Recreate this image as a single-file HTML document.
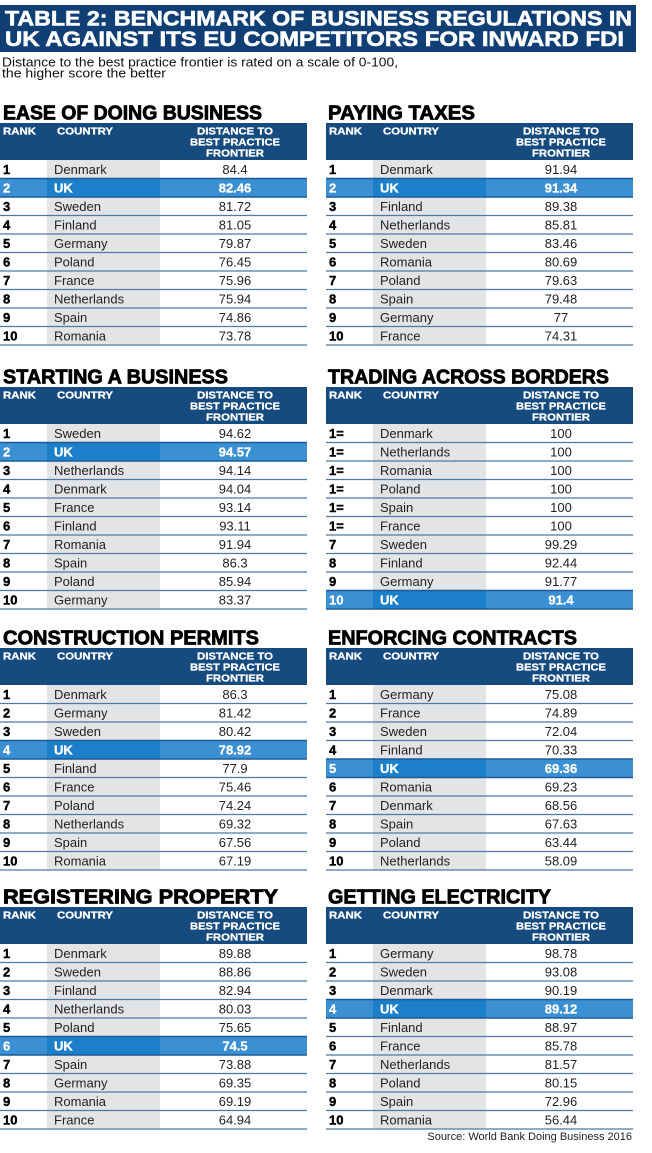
<!DOCTYPE html>
<html>
<head>
<meta charset="utf-8">
<style>
html,body{margin:0;padding:0;background:#fff;}
svg{display:block;}
text{font-family:"Liberation Sans",Arial,sans-serif;}
.tt{font-size:21px;font-weight:bold;fill:#fff;stroke:#fff;stroke-width:0.6;}
.sub{font-size:12.5px;fill:#111;}
.st{font-size:20px;font-weight:bold;fill:#000;stroke:#000;stroke-width:0.8;}
.hd{font-size:10.5px;font-weight:bold;fill:#fff;stroke:#fff;stroke-width:0.3;}
.hc{font-size:10.5px;font-weight:bold;fill:#fff;text-anchor:middle;stroke:#fff;stroke-width:0.3;}
.r{font-size:13px;font-weight:bold;fill:#000;stroke:#000;stroke-width:0.4;}
.c{font-size:13px;fill:#222;}
.v{font-size:13px;fill:#222;text-anchor:middle;}
.rh{font-size:13px;font-weight:bold;fill:#fff;stroke:#fff;stroke-width:0.3;}
.vh{font-size:13px;font-weight:bold;fill:#fff;text-anchor:middle;stroke:#fff;stroke-width:0.3;}
.src{font-size:11px;fill:#222;text-anchor:end;}
.ln{stroke:#4f78a6;stroke-width:1.2;fill:none;}
.lh{stroke:#1d5b96;stroke-width:1.4;fill:none;}
</style>
</head>
<body>
<svg width="652" height="1153" viewBox="0 0 652 1153" xmlns="http://www.w3.org/2000/svg">
<rect width="652" height="1153" fill="#fff"/>
<!-- Title -->
<rect x="0" y="5" width="636" height="47" fill="#0f3f75"/>
<text class="tt" x="5" y="25.5" textLength="627" lengthAdjust="spacingAndGlyphs">TABLE 2: BENCHMARK OF BUSINESS REGULATIONS IN</text>
<text class="tt" x="5" y="46" textLength="619" lengthAdjust="spacingAndGlyphs">UK AGAINST ITS EU COMPETITORS FOR INWARD FDI</text>
<text class="sub" x="2" y="66.5" textLength="396" lengthAdjust="spacingAndGlyphs">Distance to the best practice frontier is rated on a scale of 0-100,</text>
<text class="sub" x="2" y="77.5" textLength="164" lengthAdjust="spacingAndGlyphs">the higher score the better</text>

<!-- ===== Section 1 Left ===== -->
<g transform="translate(0,123)">
<text class="st" x="3" y="-3.5" textLength="259" lengthAdjust="spacingAndGlyphs">EASE OF DOING BUSINESS</text>
<rect width="307" height="37" fill="#164b80"/>
<text class="hd" x="3" y="11.5" textLength="33" lengthAdjust="spacingAndGlyphs">RANK</text>
<text class="hd" x="57" y="11.5" textLength="56" lengthAdjust="spacingAndGlyphs">COUNTRY</text>
<text class="hc" x="235" y="11.5" textLength="76" lengthAdjust="spacingAndGlyphs">DISTANCE TO</text>
<text class="hc" x="235" y="22.5" textLength="90" lengthAdjust="spacingAndGlyphs">BEST PRACTICE</text>
<text class="hc" x="235" y="33.5" textLength="58" lengthAdjust="spacingAndGlyphs">FRONTIER</text>
<rect x="47" y="37" width="113" height="185" fill="#e3e4e6"/>
<rect x="0" y="55.5" width="307" height="18.5" fill="#3a90d2"/><rect x="47" y="55.5" width="113" height="18.5" fill="#1b7fc9"/>
<path class="ln" d="M0 92.5H307M0 111H307M0 129.5H307M0 148H307M0 166.5H307M0 185H307M0 203.5H307M0 222H307"/>
<path class="lh" d="M0 55.5H307M0 74H307"/>
<text class="r" x="3" y="51.2">1</text><text class="c" x="54" y="51.2">Denmark</text><text class="v" x="235" y="51.2">84.4</text>
<text class="rh" x="3" y="69.7">2</text><text class="rh" x="54" y="69.7">UK</text><text class="vh" x="235" y="69.7">82.46</text>
<text class="r" x="3" y="88.2">3</text><text class="c" x="54" y="88.2">Sweden</text><text class="v" x="235" y="88.2">81.72</text>
<text class="r" x="3" y="106.7">4</text><text class="c" x="54" y="106.7">Finland</text><text class="v" x="235" y="106.7">81.05</text>
<text class="r" x="3" y="125.2">5</text><text class="c" x="54" y="125.2">Germany</text><text class="v" x="235" y="125.2">79.87</text>
<text class="r" x="3" y="143.7">6</text><text class="c" x="54" y="143.7">Poland</text><text class="v" x="235" y="143.7">76.45</text>
<text class="r" x="3" y="162.2">7</text><text class="c" x="54" y="162.2">France</text><text class="v" x="235" y="162.2">75.96</text>
<text class="r" x="3" y="180.7">8</text><text class="c" x="54" y="180.7">Netherlands</text><text class="v" x="235" y="180.7">75.94</text>
<text class="r" x="3" y="199.2">9</text><text class="c" x="54" y="199.2">Spain</text><text class="v" x="235" y="199.2">74.86</text>
<text class="r" x="3" y="217.7">10</text><text class="c" x="54" y="217.7">Romania</text><text class="v" x="235" y="217.7">73.78</text>
</g>

<!-- ===== Section 1 Right ===== -->
<g transform="translate(326,123)">
<text class="st" x="2" y="-3.5" textLength="147" lengthAdjust="spacingAndGlyphs">PAYING TAXES</text>
<rect width="307" height="37" fill="#164b80"/>
<text class="hd" x="3" y="11.5" textLength="33" lengthAdjust="spacingAndGlyphs">RANK</text>
<text class="hd" x="57" y="11.5" textLength="56" lengthAdjust="spacingAndGlyphs">COUNTRY</text>
<text class="hc" x="235" y="11.5" textLength="76" lengthAdjust="spacingAndGlyphs">DISTANCE TO</text>
<text class="hc" x="235" y="22.5" textLength="90" lengthAdjust="spacingAndGlyphs">BEST PRACTICE</text>
<text class="hc" x="235" y="33.5" textLength="58" lengthAdjust="spacingAndGlyphs">FRONTIER</text>
<rect x="47" y="37" width="113" height="185" fill="#e3e4e6"/>
<rect x="0" y="55.5" width="307" height="18.5" fill="#3a90d2"/><rect x="47" y="55.5" width="113" height="18.5" fill="#1b7fc9"/>
<path class="ln" d="M0 92.5H307M0 111H307M0 129.5H307M0 148H307M0 166.5H307M0 185H307M0 203.5H307M0 222H307"/>
<path class="lh" d="M0 55.5H307M0 74H307"/>
<text class="r" x="3" y="51.2">1</text><text class="c" x="54" y="51.2">Denmark</text><text class="v" x="235" y="51.2">91.94</text>
<text class="rh" x="3" y="69.7">2</text><text class="rh" x="54" y="69.7">UK</text><text class="vh" x="235" y="69.7">91.34</text>
<text class="r" x="3" y="88.2">3</text><text class="c" x="54" y="88.2">Finland</text><text class="v" x="235" y="88.2">89.38</text>
<text class="r" x="3" y="106.7">4</text><text class="c" x="54" y="106.7">Netherlands</text><text class="v" x="235" y="106.7">85.81</text>
<text class="r" x="3" y="125.2">5</text><text class="c" x="54" y="125.2">Sweden</text><text class="v" x="235" y="125.2">83.46</text>
<text class="r" x="3" y="143.7">6</text><text class="c" x="54" y="143.7">Romania</text><text class="v" x="235" y="143.7">80.69</text>
<text class="r" x="3" y="162.2">7</text><text class="c" x="54" y="162.2">Poland</text><text class="v" x="235" y="162.2">79.63</text>
<text class="r" x="3" y="180.7">8</text><text class="c" x="54" y="180.7">Spain</text><text class="v" x="235" y="180.7">79.48</text>
<text class="r" x="3" y="199.2">9</text><text class="c" x="54" y="199.2">Germany</text><text class="v" x="235" y="199.2">77</text>
<text class="r" x="3" y="217.7">10</text><text class="c" x="54" y="217.7">France</text><text class="v" x="235" y="217.7">74.31</text>
</g>

<!-- ===== Section 2 Left ===== -->
<g transform="translate(0,387)">
<text class="st" x="3" y="-3.5" textLength="225" lengthAdjust="spacingAndGlyphs">STARTING A BUSINESS</text>
<rect width="307" height="37" fill="#164b80"/>
<text class="hd" x="3" y="11.5" textLength="33" lengthAdjust="spacingAndGlyphs">RANK</text>
<text class="hd" x="57" y="11.5" textLength="56" lengthAdjust="spacingAndGlyphs">COUNTRY</text>
<text class="hc" x="235" y="11.5" textLength="76" lengthAdjust="spacingAndGlyphs">DISTANCE TO</text>
<text class="hc" x="235" y="22.5" textLength="90" lengthAdjust="spacingAndGlyphs">BEST PRACTICE</text>
<text class="hc" x="235" y="33.5" textLength="58" lengthAdjust="spacingAndGlyphs">FRONTIER</text>
<rect x="47" y="37" width="113" height="185" fill="#e3e4e6"/>
<rect x="0" y="55.5" width="307" height="18.5" fill="#3a90d2"/><rect x="47" y="55.5" width="113" height="18.5" fill="#1b7fc9"/>
<path class="ln" d="M0 92.5H307M0 111H307M0 129.5H307M0 148H307M0 166.5H307M0 185H307M0 203.5H307M0 222H307"/>
<path class="lh" d="M0 55.5H307M0 74H307"/>
<text class="r" x="3" y="51.2">1</text><text class="c" x="54" y="51.2">Sweden</text><text class="v" x="235" y="51.2">94.62</text>
<text class="rh" x="3" y="69.7">2</text><text class="rh" x="54" y="69.7">UK</text><text class="vh" x="235" y="69.7">94.57</text>
<text class="r" x="3" y="88.2">3</text><text class="c" x="54" y="88.2">Netherlands</text><text class="v" x="235" y="88.2">94.14</text>
<text class="r" x="3" y="106.7">4</text><text class="c" x="54" y="106.7">Denmark</text><text class="v" x="235" y="106.7">94.04</text>
<text class="r" x="3" y="125.2">5</text><text class="c" x="54" y="125.2">France</text><text class="v" x="235" y="125.2">93.14</text>
<text class="r" x="3" y="143.7">6</text><text class="c" x="54" y="143.7">Finland</text><text class="v" x="235" y="143.7">93.11</text>
<text class="r" x="3" y="162.2">7</text><text class="c" x="54" y="162.2">Romania</text><text class="v" x="235" y="162.2">91.94</text>
<text class="r" x="3" y="180.7">8</text><text class="c" x="54" y="180.7">Spain</text><text class="v" x="235" y="180.7">86.3</text>
<text class="r" x="3" y="199.2">9</text><text class="c" x="54" y="199.2">Poland</text><text class="v" x="235" y="199.2">85.94</text>
<text class="r" x="3" y="217.7">10</text><text class="c" x="54" y="217.7">Germany</text><text class="v" x="235" y="217.7">83.37</text>
</g>

<!-- ===== Section 2 Right ===== -->
<g transform="translate(326,387)">
<text class="st" x="2" y="-3.5" textLength="281" lengthAdjust="spacingAndGlyphs">TRADING ACROSS BORDERS</text>
<rect width="307" height="37" fill="#164b80"/>
<text class="hd" x="3" y="11.5" textLength="33" lengthAdjust="spacingAndGlyphs">RANK</text>
<text class="hd" x="57" y="11.5" textLength="56" lengthAdjust="spacingAndGlyphs">COUNTRY</text>
<text class="hc" x="235" y="11.5" textLength="76" lengthAdjust="spacingAndGlyphs">DISTANCE TO</text>
<text class="hc" x="235" y="22.5" textLength="90" lengthAdjust="spacingAndGlyphs">BEST PRACTICE</text>
<text class="hc" x="235" y="33.5" textLength="58" lengthAdjust="spacingAndGlyphs">FRONTIER</text>
<rect x="47" y="37" width="113" height="185" fill="#e3e4e6"/>
<rect x="0" y="203.5" width="307" height="18.5" fill="#3a90d2"/><rect x="47" y="203.5" width="113" height="18.5" fill="#1b7fc9"/>
<path class="ln" d="M0 55.5H307M0 74H307M0 92.5H307M0 111H307M0 129.5H307M0 148H307M0 166.5H307M0 185H307"/>
<path class="lh" d="M0 203.5H307M0 222H307"/>
<text class="r" x="3" y="51.2">1=</text><text class="c" x="54" y="51.2">Denmark</text><text class="v" x="235" y="51.2">100</text>
<text class="r" x="3" y="69.7">1=</text><text class="c" x="54" y="69.7">Netherlands</text><text class="v" x="235" y="69.7">100</text>
<text class="r" x="3" y="88.2">1=</text><text class="c" x="54" y="88.2">Romania</text><text class="v" x="235" y="88.2">100</text>
<text class="r" x="3" y="106.7">1=</text><text class="c" x="54" y="106.7">Poland</text><text class="v" x="235" y="106.7">100</text>
<text class="r" x="3" y="125.2">1=</text><text class="c" x="54" y="125.2">Spain</text><text class="v" x="235" y="125.2">100</text>
<text class="r" x="3" y="143.7">1=</text><text class="c" x="54" y="143.7">France</text><text class="v" x="235" y="143.7">100</text>
<text class="r" x="3" y="162.2">7</text><text class="c" x="54" y="162.2">Sweden</text><text class="v" x="235" y="162.2">99.29</text>
<text class="r" x="3" y="180.7">8</text><text class="c" x="54" y="180.7">Finland</text><text class="v" x="235" y="180.7">92.44</text>
<text class="r" x="3" y="199.2">9</text><text class="c" x="54" y="199.2">Germany</text><text class="v" x="235" y="199.2">91.77</text>
<text class="rh" x="3" y="217.7">10</text><text class="rh" x="54" y="217.7">UK</text><text class="vh" x="235" y="217.7">91.4</text>
</g>

<!-- ===== Section 3 Left ===== -->
<g transform="translate(0,648)">
<text class="st" x="3" y="-3.5" textLength="256" lengthAdjust="spacingAndGlyphs">CONSTRUCTION PERMITS</text>
<rect width="307" height="37" fill="#164b80"/>
<text class="hd" x="3" y="11.5" textLength="33" lengthAdjust="spacingAndGlyphs">RANK</text>
<text class="hd" x="57" y="11.5" textLength="56" lengthAdjust="spacingAndGlyphs">COUNTRY</text>
<text class="hc" x="235" y="11.5" textLength="76" lengthAdjust="spacingAndGlyphs">DISTANCE TO</text>
<text class="hc" x="235" y="22.5" textLength="90" lengthAdjust="spacingAndGlyphs">BEST PRACTICE</text>
<text class="hc" x="235" y="33.5" textLength="58" lengthAdjust="spacingAndGlyphs">FRONTIER</text>
<rect x="47" y="37" width="113" height="185" fill="#e3e4e6"/>
<rect x="0" y="92.5" width="307" height="18.5" fill="#3a90d2"/><rect x="47" y="92.5" width="113" height="18.5" fill="#1b7fc9"/>
<path class="ln" d="M0 55.5H307M0 74H307M0 129.5H307M0 148H307M0 166.5H307M0 185H307M0 203.5H307M0 222H307"/>
<path class="lh" d="M0 92.5H307M0 111H307"/>
<text class="r" x="3" y="51.2">1</text><text class="c" x="54" y="51.2">Denmark</text><text class="v" x="235" y="51.2">86.3</text>
<text class="r" x="3" y="69.7">2</text><text class="c" x="54" y="69.7">Germany</text><text class="v" x="235" y="69.7">81.42</text>
<text class="r" x="3" y="88.2">3</text><text class="c" x="54" y="88.2">Sweden</text><text class="v" x="235" y="88.2">80.42</text>
<text class="rh" x="3" y="106.7">4</text><text class="rh" x="54" y="106.7">UK</text><text class="vh" x="235" y="106.7">78.92</text>
<text class="r" x="3" y="125.2">5</text><text class="c" x="54" y="125.2">Finland</text><text class="v" x="235" y="125.2">77.9</text>
<text class="r" x="3" y="143.7">6</text><text class="c" x="54" y="143.7">France</text><text class="v" x="235" y="143.7">75.46</text>
<text class="r" x="3" y="162.2">7</text><text class="c" x="54" y="162.2">Poland</text><text class="v" x="235" y="162.2">74.24</text>
<text class="r" x="3" y="180.7">8</text><text class="c" x="54" y="180.7">Netherlands</text><text class="v" x="235" y="180.7">69.32</text>
<text class="r" x="3" y="199.2">9</text><text class="c" x="54" y="199.2">Spain</text><text class="v" x="235" y="199.2">67.56</text>
<text class="r" x="3" y="217.7">10</text><text class="c" x="54" y="217.7">Romania</text><text class="v" x="235" y="217.7">67.19</text>
</g>

<!-- ===== Section 3 Right ===== -->
<g transform="translate(326,648)">
<text class="st" x="2" y="-3.5" textLength="249" lengthAdjust="spacingAndGlyphs">ENFORCING CONTRACTS</text>
<rect width="307" height="37" fill="#164b80"/>
<text class="hd" x="3" y="11.5" textLength="33" lengthAdjust="spacingAndGlyphs">RANK</text>
<text class="hd" x="57" y="11.5" textLength="56" lengthAdjust="spacingAndGlyphs">COUNTRY</text>
<text class="hc" x="235" y="11.5" textLength="76" lengthAdjust="spacingAndGlyphs">DISTANCE TO</text>
<text class="hc" x="235" y="22.5" textLength="90" lengthAdjust="spacingAndGlyphs">BEST PRACTICE</text>
<text class="hc" x="235" y="33.5" textLength="58" lengthAdjust="spacingAndGlyphs">FRONTIER</text>
<rect x="47" y="37" width="113" height="185" fill="#e3e4e6"/>
<rect x="0" y="111" width="307" height="18.5" fill="#3a90d2"/><rect x="47" y="111" width="113" height="18.5" fill="#1b7fc9"/>
<path class="ln" d="M0 55.5H307M0 74H307M0 92.5H307M0 148H307M0 166.5H307M0 185H307M0 203.5H307M0 222H307"/>
<path class="lh" d="M0 111H307M0 129.5H307"/>
<text class="r" x="3" y="51.2">1</text><text class="c" x="54" y="51.2">Germany</text><text class="v" x="235" y="51.2">75.08</text>
<text class="r" x="3" y="69.7">2</text><text class="c" x="54" y="69.7">France</text><text class="v" x="235" y="69.7">74.89</text>
<text class="r" x="3" y="88.2">3</text><text class="c" x="54" y="88.2">Sweden</text><text class="v" x="235" y="88.2">72.04</text>
<text class="r" x="3" y="106.7">4</text><text class="c" x="54" y="106.7">Finland</text><text class="v" x="235" y="106.7">70.33</text>
<text class="rh" x="3" y="125.2">5</text><text class="rh" x="54" y="125.2">UK</text><text class="vh" x="235" y="125.2">69.36</text>
<text class="r" x="3" y="143.7">6</text><text class="c" x="54" y="143.7">Romania</text><text class="v" x="235" y="143.7">69.23</text>
<text class="r" x="3" y="162.2">7</text><text class="c" x="54" y="162.2">Denmark</text><text class="v" x="235" y="162.2">68.56</text>
<text class="r" x="3" y="180.7">8</text><text class="c" x="54" y="180.7">Spain</text><text class="v" x="235" y="180.7">67.63</text>
<text class="r" x="3" y="199.2">9</text><text class="c" x="54" y="199.2">Poland</text><text class="v" x="235" y="199.2">63.44</text>
<text class="r" x="3" y="217.7">10</text><text class="c" x="54" y="217.7">Netherlands</text><text class="v" x="235" y="217.7">58.09</text>
</g>

<!-- ===== Section 4 Left ===== -->
<g transform="translate(0,907)">
<text class="st" x="3" y="-3.5" textLength="275" lengthAdjust="spacingAndGlyphs">REGISTERING PROPERTY</text>
<rect width="307" height="37" fill="#164b80"/>
<text class="hd" x="3" y="11.5" textLength="33" lengthAdjust="spacingAndGlyphs">RANK</text>
<text class="hd" x="57" y="11.5" textLength="56" lengthAdjust="spacingAndGlyphs">COUNTRY</text>
<text class="hc" x="235" y="11.5" textLength="76" lengthAdjust="spacingAndGlyphs">DISTANCE TO</text>
<text class="hc" x="235" y="22.5" textLength="90" lengthAdjust="spacingAndGlyphs">BEST PRACTICE</text>
<text class="hc" x="235" y="33.5" textLength="58" lengthAdjust="spacingAndGlyphs">FRONTIER</text>
<rect x="47" y="37" width="113" height="185" fill="#e3e4e6"/>
<rect x="0" y="129.5" width="307" height="18.5" fill="#3a90d2"/><rect x="47" y="129.5" width="113" height="18.5" fill="#1b7fc9"/>
<path class="ln" d="M0 55.5H307M0 74H307M0 92.5H307M0 111H307M0 166.5H307M0 185H307M0 203.5H307M0 222H307"/>
<path class="lh" d="M0 129.5H307M0 148H307"/>
<text class="r" x="3" y="51.2">1</text><text class="c" x="54" y="51.2">Denmark</text><text class="v" x="235" y="51.2">89.88</text>
<text class="r" x="3" y="69.7">2</text><text class="c" x="54" y="69.7">Sweden</text><text class="v" x="235" y="69.7">88.86</text>
<text class="r" x="3" y="88.2">3</text><text class="c" x="54" y="88.2">Finland</text><text class="v" x="235" y="88.2">82.94</text>
<text class="r" x="3" y="106.7">4</text><text class="c" x="54" y="106.7">Netherlands</text><text class="v" x="235" y="106.7">80.03</text>
<text class="r" x="3" y="125.2">5</text><text class="c" x="54" y="125.2">Poland</text><text class="v" x="235" y="125.2">75.65</text>
<text class="rh" x="3" y="143.7">6</text><text class="rh" x="54" y="143.7">UK</text><text class="vh" x="235" y="143.7">74.5</text>
<text class="r" x="3" y="162.2">7</text><text class="c" x="54" y="162.2">Spain</text><text class="v" x="235" y="162.2">73.88</text>
<text class="r" x="3" y="180.7">8</text><text class="c" x="54" y="180.7">Germany</text><text class="v" x="235" y="180.7">69.35</text>
<text class="r" x="3" y="199.2">9</text><text class="c" x="54" y="199.2">Romania</text><text class="v" x="235" y="199.2">69.19</text>
<text class="r" x="3" y="217.7">10</text><text class="c" x="54" y="217.7">France</text><text class="v" x="235" y="217.7">64.94</text>
</g>

<!-- ===== Section 4 Right ===== -->
<g transform="translate(326,907)">
<text class="st" x="2" y="-3.5" textLength="223" lengthAdjust="spacingAndGlyphs">GETTING ELECTRICITY</text>
<rect width="307" height="37" fill="#164b80"/>
<text class="hd" x="3" y="11.5" textLength="33" lengthAdjust="spacingAndGlyphs">RANK</text>
<text class="hd" x="57" y="11.5" textLength="56" lengthAdjust="spacingAndGlyphs">COUNTRY</text>
<text class="hc" x="235" y="11.5" textLength="76" lengthAdjust="spacingAndGlyphs">DISTANCE TO</text>
<text class="hc" x="235" y="22.5" textLength="90" lengthAdjust="spacingAndGlyphs">BEST PRACTICE</text>
<text class="hc" x="235" y="33.5" textLength="58" lengthAdjust="spacingAndGlyphs">FRONTIER</text>
<rect x="47" y="37" width="113" height="185" fill="#e3e4e6"/>
<rect x="0" y="92.5" width="307" height="18.5" fill="#3a90d2"/><rect x="47" y="92.5" width="113" height="18.5" fill="#1b7fc9"/>
<path class="ln" d="M0 55.5H307M0 74H307M0 129.5H307M0 148H307M0 166.5H307M0 185H307M0 203.5H307M0 222H307"/>
<path class="lh" d="M0 92.5H307M0 111H307"/>
<text class="r" x="3" y="51.2">1</text><text class="c" x="54" y="51.2">Germany</text><text class="v" x="235" y="51.2">98.78</text>
<text class="r" x="3" y="69.7">2</text><text class="c" x="54" y="69.7">Sweden</text><text class="v" x="235" y="69.7">93.08</text>
<text class="r" x="3" y="88.2">3</text><text class="c" x="54" y="88.2">Denmark</text><text class="v" x="235" y="88.2">90.19</text>
<text class="rh" x="3" y="106.7">4</text><text class="rh" x="54" y="106.7">UK</text><text class="vh" x="235" y="106.7">89.12</text>
<text class="r" x="3" y="125.2">5</text><text class="c" x="54" y="125.2">Finland</text><text class="v" x="235" y="125.2">88.97</text>
<text class="r" x="3" y="143.7">6</text><text class="c" x="54" y="143.7">France</text><text class="v" x="235" y="143.7">85.78</text>
<text class="r" x="3" y="162.2">7</text><text class="c" x="54" y="162.2">Netherlands</text><text class="v" x="235" y="162.2">81.57</text>
<text class="r" x="3" y="180.7">8</text><text class="c" x="54" y="180.7">Poland</text><text class="v" x="235" y="180.7">80.15</text>
<text class="r" x="3" y="199.2">9</text><text class="c" x="54" y="199.2">Spain</text><text class="v" x="235" y="199.2">72.96</text>
<text class="r" x="3" y="217.7">10</text><text class="c" x="54" y="217.7">Romania</text><text class="v" x="235" y="217.7">56.44</text>
</g>

<text class="src" x="632" y="1140">Source: World Bank Doing Business 2016</text>
</svg>
</body>
</html>
